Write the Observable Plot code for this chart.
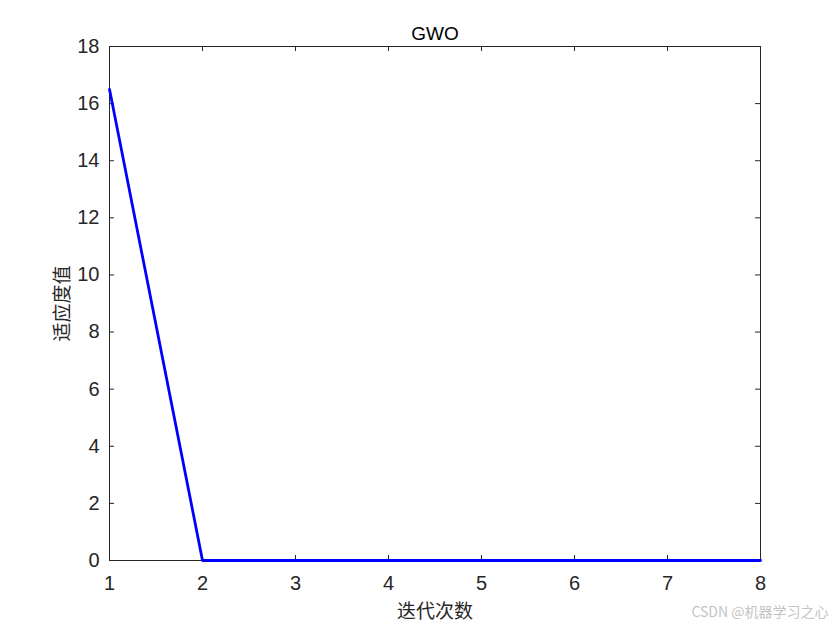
<!DOCTYPE html>
<html>
<head>
<meta charset="utf-8">
<script src="https://cdn.jsdelivr.net/npm/d3@7"></script>
<script src="https://cdn.jsdelivr.net/npm/@observablehq/plot@0.6"></script>
<style>
  html, body { margin: 0; padding: 0; background: #fff; }
</style>
</head>
<body>
<div id="chart"></div>
<script>
const iterations = [1, 2, 3, 4, 5, 6, 7, 8];
const fitness = [16.5, 0, 0, 0, 0, 0, 0, 0];
const xTicks = [1, 2, 3, 4, 5, 6, 7, 8];
const yTicks = [0, 2, 4, 6, 8, 10, 12, 14, 16, 18];
const titleText = "GWO";
const xLabel = "迭代次数";
const yLabel = "适应度值";
const watermark = "CSDN @机器学习之心";

const data = iterations.map((x, i) => ({x, y: fitness[i]}));

const W = 840, H = 630;
const mL = 109, mR = 80, mT = 46, mB = 70;
const fw = W - mL - mR, fh = H - mT - mB;
const tick = 5;
const axisColor = "#262626";
const latin = "'Liberation Sans', Arial, Helvetica, sans-serif";
const cjk = "'Noto Sans CJK SC', sans-serif";

const chart = Plot.plot({
  width: W,
  height: H,
  marginLeft: mL,
  marginRight: mR,
  marginTop: mT,
  marginBottom: mB,
  style: {fontFamily: latin, fontSize: "20px", background: "#fff", color: axisColor},
  x: {domain: [1, 8], axis: null},
  y: {domain: [0, 18], axis: null},
  marks: [
    Plot.frame({stroke: axisColor, strokeWidth: 1}),
    Plot.text(xTicks, {x: d => d, text: d => String(d), frameAnchor: "bottom", lineAnchor: "middle", dy: 23, fontSize: 20, fill: axisColor, fontFamily: latin}),
    Plot.text(yTicks, {y: d => d, text: d => String(d), frameAnchor: "left", textAnchor: "end", lineAnchor: "middle", dx: -10, fontSize: 20, fill: axisColor, fontFamily: latin}),
    Plot.tickX(xTicks, {x: d => d, insetTop: fh - tick, stroke: axisColor}),
    Plot.tickX(xTicks, {x: d => d, insetBottom: fh - tick, stroke: axisColor}),
    Plot.tickY(yTicks, {y: d => d, insetRight: fw - tick, stroke: axisColor}),
    Plot.tickY(yTicks, {y: d => d, insetLeft: fw - tick, stroke: axisColor}),
    Plot.line(data, {x: "x", y: "y", stroke: "#0000ff", strokeWidth: 2.8}),
    Plot.text([titleText], {frameAnchor: "top", textAnchor: "middle", lineAnchor: "middle", dy: -13, fontSize: 19, fill: "#000", fontFamily: latin}),
    Plot.text([xLabel], {frameAnchor: "bottom", textAnchor: "middle", lineAnchor: "middle", dy: 51, fontSize: 19, fill: axisColor, fontFamily: cjk}),
    Plot.text([yLabel], {frameAnchor: "left", textAnchor: "middle", lineAnchor: "middle", dx: -47, rotate: -90, fontSize: 19, fill: axisColor, fontFamily: cjk}),
    Plot.text([watermark], {frameAnchor: "bottom-right", lineAnchor: "middle", dx: 68, dy: 52, textAnchor: "end", fontSize: 14, fill: "#c4c4c4", fontFamily: cjk})
  ]
});
document.getElementById("chart").appendChild(chart);
</script>
</body>
</html>
